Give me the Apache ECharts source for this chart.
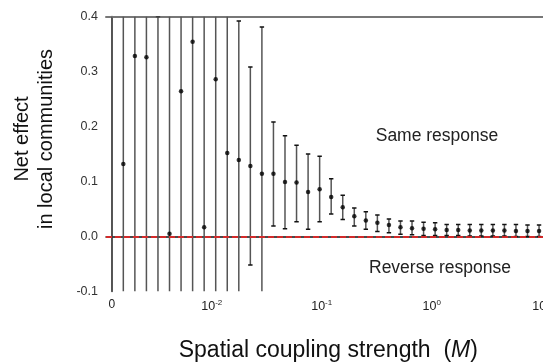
<!DOCTYPE html>
<html>
<head>
<meta charset="utf-8">
<script src="https://cdn.jsdelivr.net/npm/echarts@6/dist/echarts.min.js"></script>
<style>
  html, body { margin: 0; padding: 0; background: #fff; }
  #main { width: 543px; height: 362px; }
</style>
</head>
<body>
<div id="main"></div>
<script>
// mean net effect per coupling step (first step is M = 0)
const means = [0.5, 0.132, 0.328, 0.326, -0.15, 0.005, 0.264, 0.354, 0.017, 0.286, 0.152,
  0.139, 0.128, 0.114, 0.114, 0.099, 0.098, 0.081, 0.086, 0.072, 0.053, 0.037, 0.029,
  0.025, 0.021, 0.017, 0.015, 0.014, 0.013, 0.012, 0.012, 0.011, 0.011, 0.011, 0.011,
  0.010, 0.010, 0.010];
const uppers = [0.9, 0.9, 0.9, 0.9, 0.401, 0.9, 0.9, 0.9, 0.9, 0.9, 0.9,
  0.392, 0.308, 0.381, 0.208, 0.183, 0.166, 0.150, 0.146, 0.105, 0.075, 0.052, 0.045,
  0.039, 0.032, 0.028, 0.028, 0.026, 0.025, 0.022, 0.022, 0.022, 0.022, 0.022, 0.022,
  0.022, 0.021, 0.021];
const lowers = [-0.6, -0.6, -0.6, -0.6, -0.6, -0.6, -0.6, -0.6, -0.6, -0.6, -0.6,
  -0.6, -0.052, -0.15, 0.019, 0.014, 0.027, 0.013, 0.027, 0.041, 0.031, 0.019, 0.013,
  0.009, 0.007, 0.004, 0.003, 0.002, 0.002, 0.002, 0.002, 0.001, 0.001, 0.001, 0.001,
  0.000, 0.000, 0.000];
// x tick positions (in step units) and their labels
const xTickPos = [0, 8.66, 18.18, 27.7, 37.2];
const xTickLabels = ['0', '{n|10}{s|-2}', '{n|10}{s|-1}', '{n|10}{s|0}', '{n|10}{s|1}'];

const Y_MIN = -0.1, Y_MAX = 0.4;

const chart = echarts.init(document.getElementById('main'), null, { renderer: 'canvas' });

const points = means.map((m, i) => [i, m]);
const bars = means.map((m, i) => [i, lowers[i], uppers[i]]);

chart.setOption({
  animation: false,
  textStyle: { fontFamily: 'Liberation Sans, Arial, sans-serif' },
  grid: { left: 106, top: 16.5, right: -7.6, bottom: 70.5, outerBoundsMode: 'none', containLabel: false },
  xAxis: [{
    type: 'value',
    min: -0.5,
    max: 38,
    splitLine: { show: false },
    axisTick: { show: false },
    axisLine: { lineStyle: { color: '#111', width: 1.5 } },
    axisLabel: {
      customValues: xTickPos,
      margin: 7,
      color: '#222',
      fontSize: 12,
      formatter: v => {
        const k = xTickPos.indexOf(v);
        return k >= 0 ? xTickLabels[k] : '';
      },
      rich: {
        n: { fontSize: 12.5, color: '#222', verticalAlign: 'bottom', lineHeight: 15 },
        s: { fontSize: 8, color: '#222', verticalAlign: 'top', lineHeight: 15 }
      }
    },
    name: '{a|Spatial coupling strength  (}{i|M}{a|)}',
    nameLocation: 'middle',
    nameGap: 48,
    nameTextStyle: {
      rich: {
        a: { fontSize: 23, color: '#111' },
        i: { fontSize: 23, color: '#111', fontStyle: 'italic' }
      }
    }
  }, {
    type: 'value',
    position: 'top',
    min: -0.5,
    max: 38,
    splitLine: { show: false },
    axisTick: { show: false },
    axisLabel: { show: false },
    axisLine: { show: true, lineStyle: { color: '#777', width: 2 } }
  }],
  yAxis: {
    type: 'value',
    min: Y_MIN,
    max: Y_MAX,
    interval: 0.1,
    splitLine: { show: false },
    axisTick: { show: false },
    axisLine: { show: true, lineStyle: { color: '#222', width: 1.5 } },
    axisLabel: {
      margin: 8,
      color: '#333',
      fontSize: 12.5,
      formatter: v => v.toFixed(1)
    }
  },
  graphic: [
    {
      type: 'text',
      x: 34, y: 139,
      rotation: Math.PI / 2,
      style: {
        text: 'Net effect\nin local communities',
        fontSize: 20,
        lineHeight: 24,
        fill: '#111',
        align: 'center',
        verticalAlign: 'middle',
        fontFamily: 'Liberation Sans, Arial, sans-serif'
      }
    },
    {
      type: 'text',
      x: 437, y: 136,
      style: {
        text: 'Same response', fontSize: 17.5, fill: '#222',
        align: 'center', verticalAlign: 'middle',
        fontFamily: 'Liberation Sans, Arial, sans-serif'
      }
    },
    {
      type: 'text',
      x: 440, y: 268,
      style: {
        text: 'Reverse response', fontSize: 17.5, fill: '#222',
        align: 'center', verticalAlign: 'middle',
        fontFamily: 'Liberation Sans, Arial, sans-serif'
      }
    }
  ],
  series: [
    {
      type: 'custom',
      clip: true,
      data: bars,
      encode: { x: 0, y: [1, 2] },
      renderItem: (params, api) => {
        const x = api.value(0);
        const lo = api.value(1), hi = api.value(2);
        const top = api.coord([x, Math.min(hi, Y_MAX)]);
        const bot = api.coord([x, Math.max(lo, Y_MIN)]);
        const children = [{
          type: 'line',
          shape: { x1: top[0], y1: top[1], x2: bot[0], y2: bot[1] },
          style: { stroke: '#555', lineWidth: 1.5 }
        }];
        const cap = 2.2;
        if (hi <= Y_MAX + 0.002) {
          children.push({
            type: 'line',
            shape: { x1: top[0] - cap, y1: top[1], x2: top[0] + cap, y2: top[1] },
            style: { stroke: '#111', lineWidth: 1.5 }
          });
        }
        if (lo >= Y_MIN) {
          children.push({
            type: 'line',
            shape: { x1: bot[0] - cap, y1: bot[1], x2: bot[0] + cap, y2: bot[1] },
            style: { stroke: '#111', lineWidth: 1.5 }
          });
        }
        return { type: 'group', children };
      },
      z: 2
    },
    {
      type: 'scatter',
      data: points,
      clip: true,
      symbolSize: 4.5,
      itemStyle: { color: '#000' },
      z: 3,
      markLine: {
        silent: true,
        symbol: 'none',
        label: { show: false },
        lineStyle: { color: '#ff2020', type: 'dashed', width: 1.5, opacity: 1 },
        data: [{ yAxis: 0 }]
      }
    }
  ]
});
</script>
</body>
</html>
